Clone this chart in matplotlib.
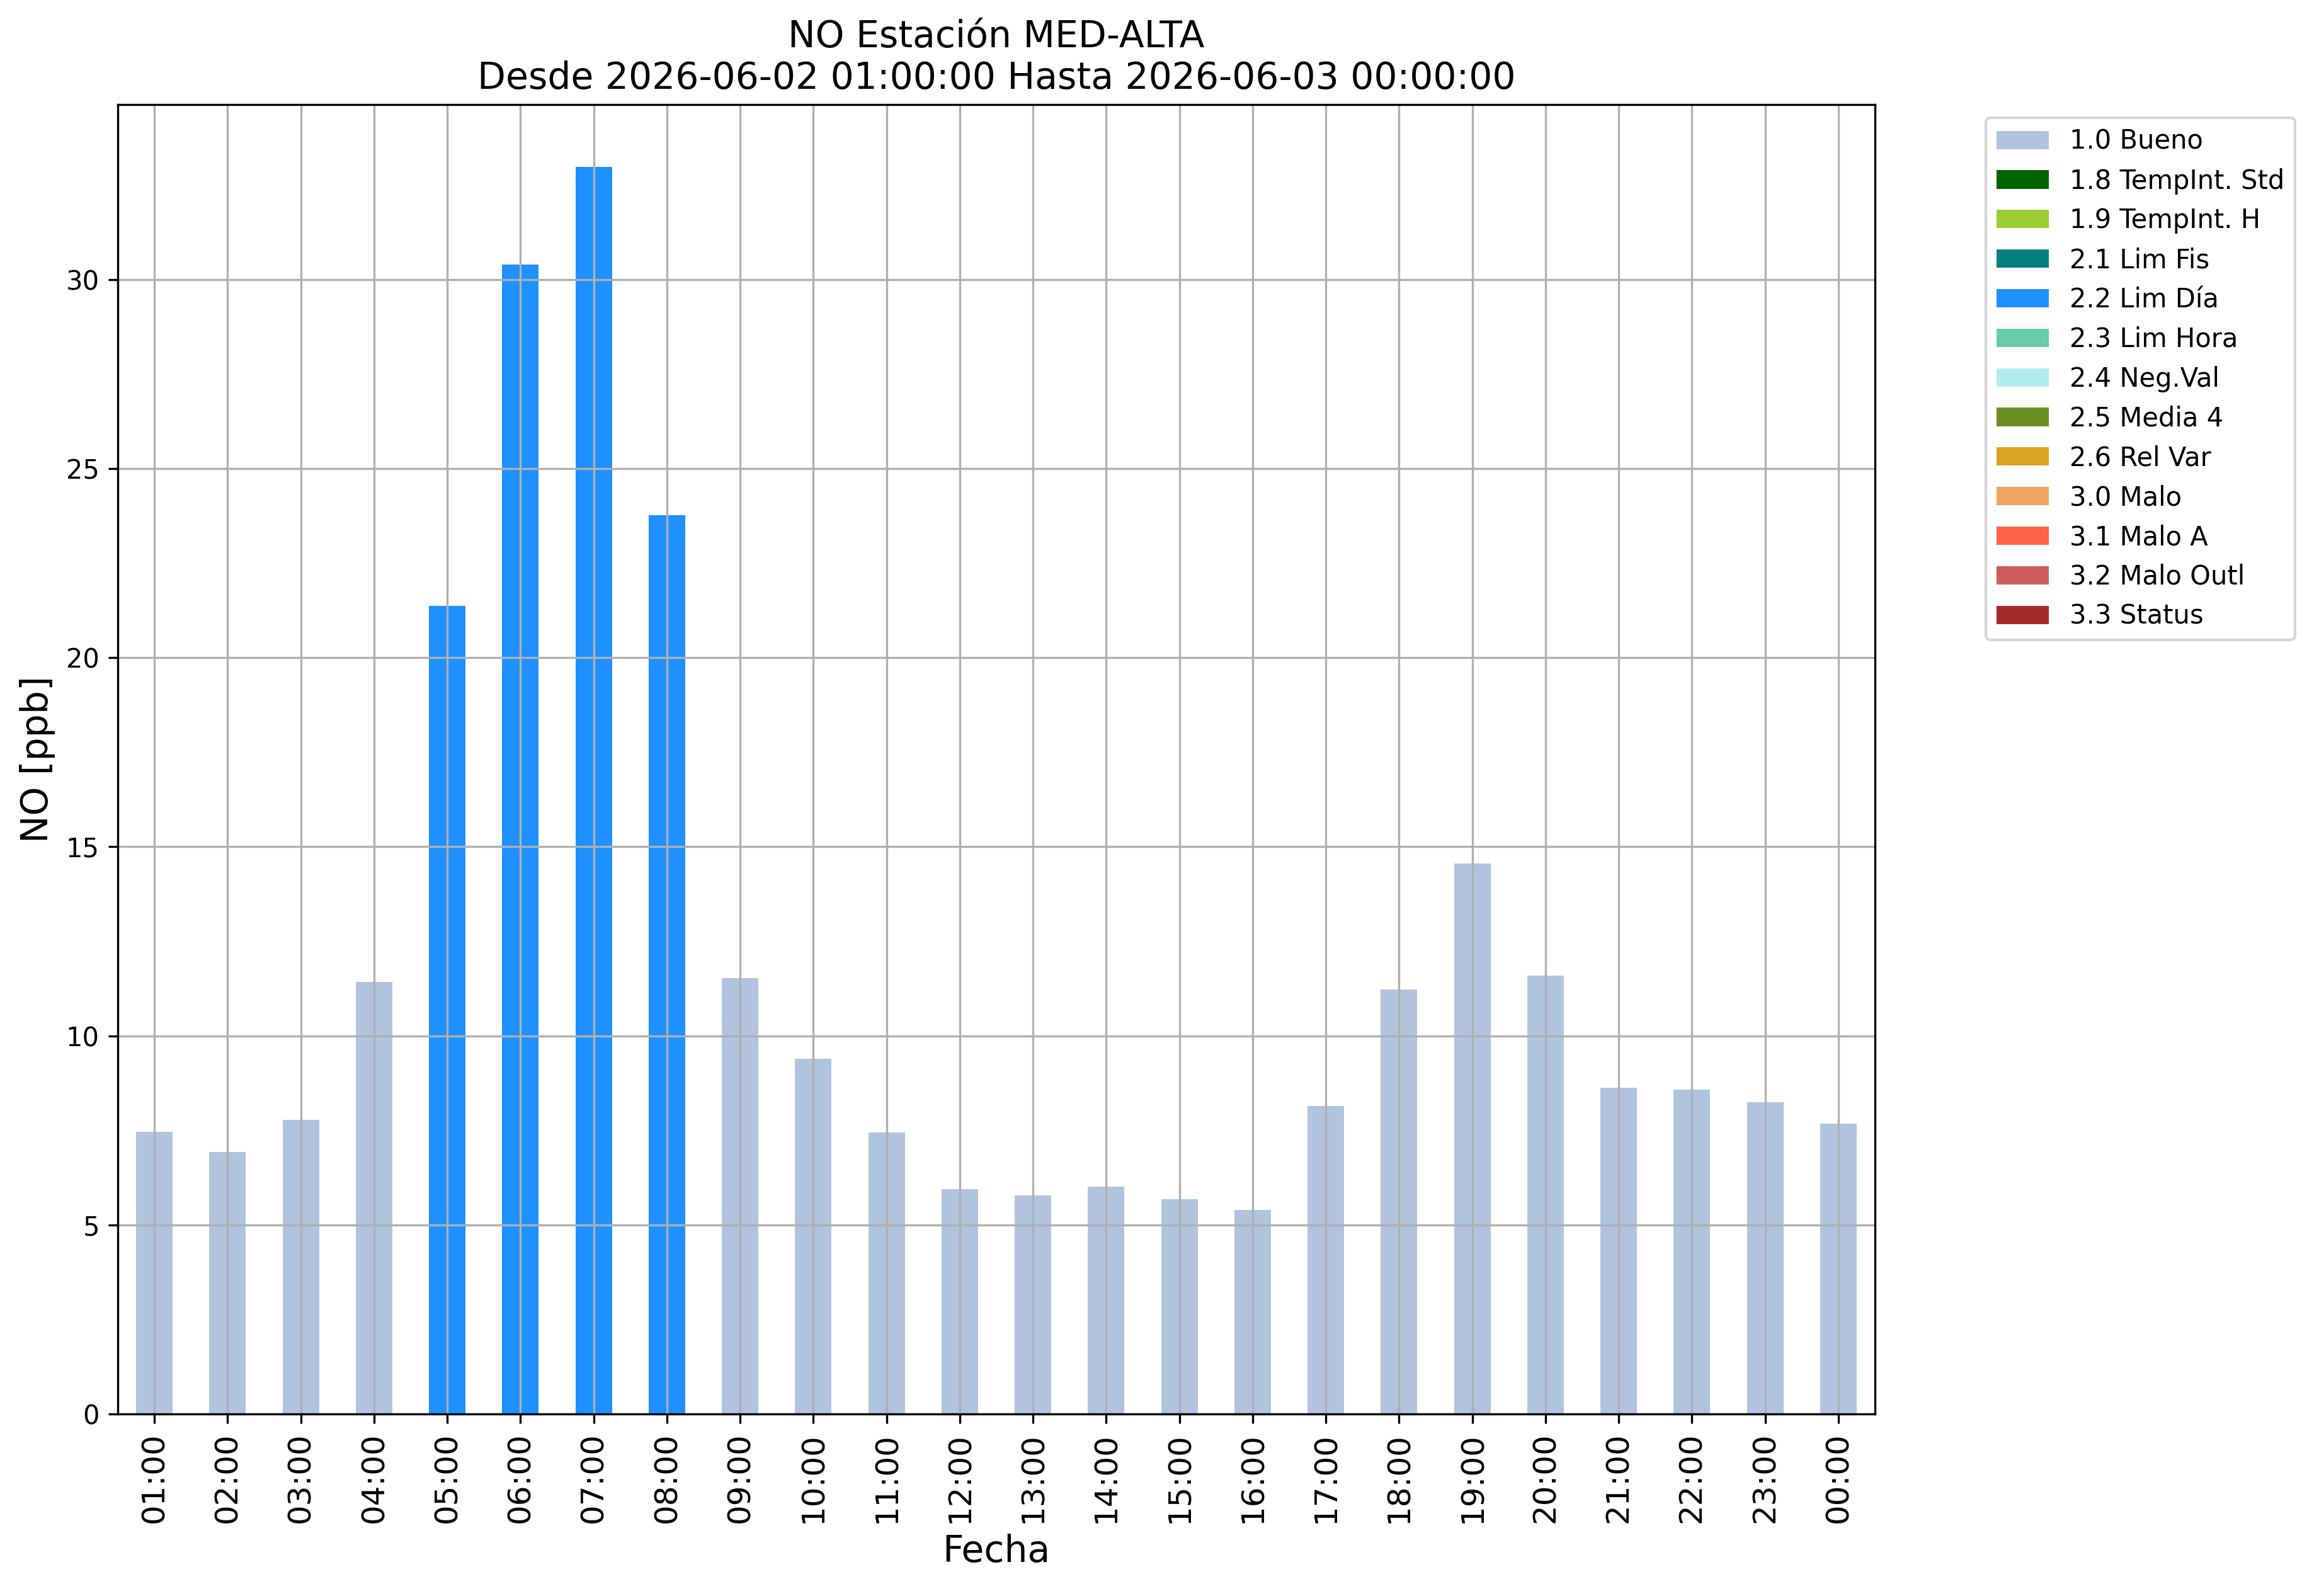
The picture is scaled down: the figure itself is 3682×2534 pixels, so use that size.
"""
NO hourly bar chart for station MED-ALTA, bars coloured by validation flag.
"""

import matplotlib
matplotlib.use("Agg")
import matplotlib.pyplot as plt
import numpy as np

HOURS = ["01:00", "02:00", "03:00", "04:00", "05:00", "06:00", "07:00", "08:00",
         "09:00", "10:00", "11:00", "12:00", "13:00", "14:00", "15:00", "16:00",
         "17:00", "18:00", "19:00", "20:00", "21:00", "22:00", "23:00", "00:00"]
NO_PPB = [7.47, 6.93, 7.78, 11.43, 21.37, 30.40, 32.98, 23.77,
          11.52, 9.40, 7.45, 5.95, 5.78, 6.02, 5.68, 5.40,
          8.15, 11.22, 14.55, 11.60, 8.63, 8.57, 8.25, 7.68]
# validation flag of each hour
FLAG = ["1.0 Bueno"] * 4 + ["2.2 Lim Día"] * 4 + ["1.0 Bueno"] * 16

FLAG_NAMES = ["1.0 Bueno", "1.8 TempInt. Std", "1.9 TempInt. H", "2.1 Lim Fis",
              "2.2 Lim Día", "2.3 Lim Hora", "2.4 Neg.Val", "2.5 Media 4",
              "2.6 Rel Var", "3.0 Malo", "3.1 Malo A", "3.2 Malo Outl", "3.3 Status"]
FLAG_COLORS = ["lightsteelblue", "darkgreen", "yellowgreen", "teal",
               "dodgerblue", "mediumaquamarine", "paleturquoise", "olivedrab",
               "goldenrod", "sandybrown", "tomato", "indianred", "brown"]

TITLE = "NO Estación MED-ALTA\nDesde 2026-06-02 01:00:00 Hasta 2026-06-03 00:00:00"


def main() -> None:
    W, H, DPI = 3682, 2534, 300
    fig = plt.figure(figsize=(W / DPI, H / DPI), dpi=DPI)
    ax = fig.add_axes([187 / W, 1 - 2245 / H, (2977 - 187) / W, (2245 - 166) / H])

    x = np.arange(len(HOURS))
    vals = np.array(NO_PPB)
    bottom = np.zeros(len(HOURS))
    for name, col in zip(FLAG_NAMES, FLAG_COLORS):
        h = np.where(np.array(FLAG) == name, vals, 0.0)
        ax.bar(x, h, width=0.5, bottom=bottom, color=col, label=name, linewidth=0)
        bottom += h

    ax.set_xlim(-0.5, len(HOURS) - 0.5)
    ax.set_ylim(0, vals.max() * 1.05)
    ax.set_xticks(x)
    ax.set_xticklabels(HOURS, rotation=90)
    ax.tick_params(axis="x", labelsize=12)
    ax.tick_params(axis="y", labelsize=10)
    ax.grid(True)

    ax.set_title(TITLE, fontsize=14)
    ax.set_xlabel("Fecha", fontsize=14)
    ax.set_ylabel("NO [ppb]", fontsize=14)

    ax.legend(loc="upper left", bbox_to_anchor=(3153 / W, 1 - 187 / H),
              bbox_transform=fig.transFigure, borderaxespad=0, fontsize=10)

    fig.savefig("out.png", dpi=DPI)
    plt.close(fig)


if __name__ == "__main__":
    main()
